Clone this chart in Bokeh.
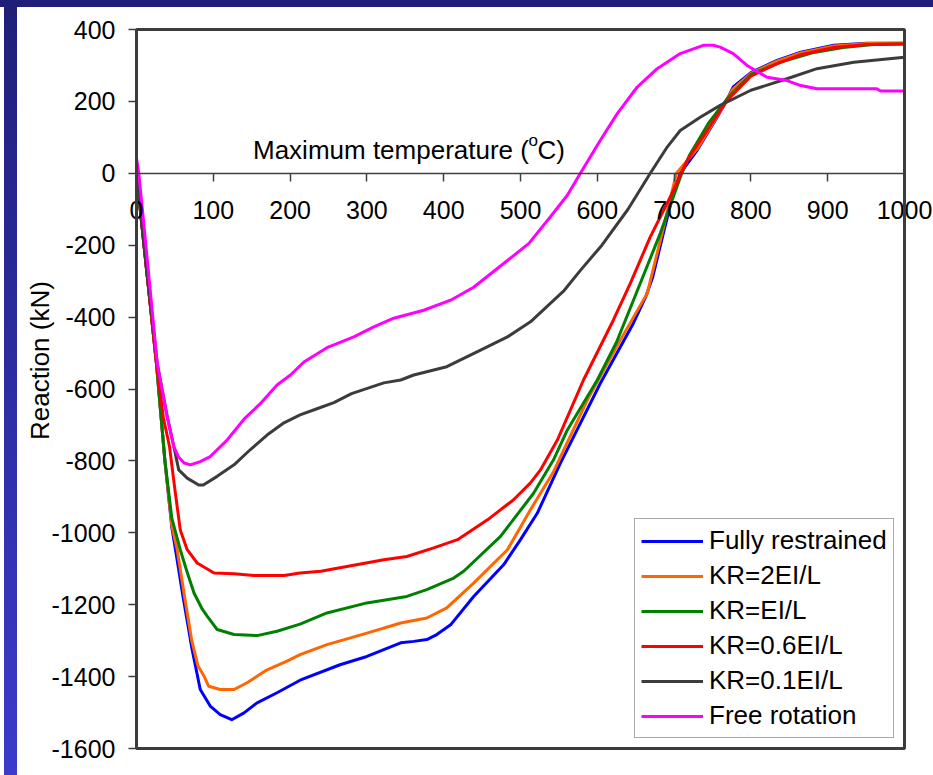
import math
from bokeh.plotting import figure
from bokeh.models import Range1d, Label, Div, FixedTicker, BoxAnnotation
from bokeh.layouts import column, row
from bokeh.embed import file_html
from bokeh.resources import INLINE

# ---------------- data ----------------
series_names = ["Fully restrained", "KR=2EI/L", "KR=EI/L", "KR=0.6EI/L", "KR=0.1EI/L", "Free rotation"]
series_colors = ["#0000FF", "#FF6600", "#008000", "#FF0000", "#3C3C3C", "#FF00FF"]

fully_T = [0, 13, 26, 37, 46, 51, 60, 72, 83, 96, 109, 124, 140, 157, 183, 213, 265, 300, 344, 361, 378, 391,
           409, 439, 478, 500, 522, 552, 604, 647, 663, 672, 686, 699, 708, 730, 756, 769, 777, 800, 834, 865,
           908, 951, 1000]
fully_R = [0, -265, -529, -800, -985, -1050, -1170, -1320, -1436, -1482, -1506, -1520, -1501, -1473, -1445,
           -1410, -1367, -1344, -1306, -1302, -1297, -1283, -1256, -1177, -1089, -1019, -945, -806, -584, -417,
           -344, -290, -167, -56, 0, 64, 156, 205, 240, 280, 314, 337, 356, 362, 362]

kr2_T = [0, 13, 26, 37, 46, 53, 62, 72, 80, 88, 94, 109, 127, 144, 170, 196, 213, 248, 300, 344, 378, 404, 439,
         483, 513, 543, 587, 630, 665, 684, 703, 730, 756, 777, 800, 834, 865, 908, 951, 1000]
kr2_R = [0, -265, -529, -800, -980, -1047, -1170, -1300, -1370, -1399, -1427, -1436, -1436, -1417, -1381,
         -1357, -1339, -1311, -1279, -1251, -1237, -1209, -1140, -1047, -936, -830, -631, -464, -334, -170, 0,
         68, 158, 235, 278, 312, 335, 354, 361, 362]

kr1_T = [0, 13, 26, 37, 46, 57, 66, 75, 85, 92, 105, 127, 157, 183, 213, 248, 300, 352, 378, 413, 426, 474, 517,
         543, 561, 600, 625, 656, 682, 710, 720, 745, 770, 800, 840, 880, 920, 960, 1000]
kr1_R = [0, -265, -529, -800, -960, -1047, -1110, -1168, -1210, -1232, -1269, -1283, -1286, -1274, -1254,
         -1223, -1195, -1177, -1158, -1126, -1107, -1010, -890, -797, -714, -575, -470, -306, -167, 0, 50, 140,
         210, 275, 310, 335, 350, 358, 360]

kr06_T = [0, 13, 26, 35, 43, 50, 57, 66, 79, 101, 127, 153, 192, 213, 240, 322, 352, 387, 418, 457, 491, 513,
          526, 548, 582, 621, 643, 669, 695, 717, 743, 769, 800, 834, 865, 908, 951, 1000]
kr06_R = [0, -265, -529, -680, -760, -880, -992, -1047, -1084, -1112, -1114, -1119, -1119, -1112, -1107, -1075,
          -1066, -1042, -1019, -964, -908, -861, -825, -742, -575, -408, -306, -177, -66, 36, 119, 203, 270, 305,
          330, 350, 358, 360]

kr01_T = [0, 13, 27, 40, 48.6, 55, 66, 81, 87, 105, 127, 148, 170, 192, 213, 235, 257, 280, 322, 344, 361, 404,
          448, 483, 513, 556, 578, 606, 640, 669, 691, 708, 734, 760, 800, 847, 886, 934, 1000]
kr01_R = [0, -265, -529, -677, -760, -825, -848, -867, -867, -843, -811, -769, -728, -694, -672, -655, -638,
          -613, -583, -575, -561, -538, -492, -455, -413, -328, -270, -200, -100, 0, 73, 119, 156, 189, 231, 263,
          291, 309, 323]

free_T = [0, 3, 12, 27, 40, 48.6, 55, 62, 70, 83, 96, 105, 118, 140, 161.5, 183, 200.5, 218, 248, 283, 309, 335,
          374, 409, 439, 474, 511, 539, 561, 578, 604, 626, 652, 678, 708, 738, 751, 760, 777, 795, 821, 847,
          865, 886, 964, 969, 1000]
free_R = [42, 0, -195, -529, -677, -760, -790, -806, -811, -802, -788, -769, -742, -684, -640, -589, -561, -525,
          -485, -455, -427, -403, -381, -353, -317, -258, -195, -121, -61, 0, 92, 166, 240, 291, 333, 356, 356,
          351, 333, 300, 267, 258, 244, 235, 235, 229, 229]

x_ticks = [0, 100, 200, 300, 400, 500, 600, 700, 800, 900, 1000]
y_ticks = [-1600, -1400, -1200, -1000, -800, -600, -400, -200, 0, 200, 400]

x_title_main = "Maximum temperature ("
x_title_sup = "o"
x_title_end = "C)"
y_title = "Reaction (kN)"

all_T = [fully_T, kr2_T, kr1_T, kr06_T, kr01_T, free_T]
all_R = [fully_R, kr2_R, kr1_R, kr06_R, kr01_R, free_R]

FONT = "Liberation Sans"
EDGE = "#3C3C3C"

# plot box (data limits) and the canvas around it
X0, X1 = 0, 1000
Y0, Y1 = -1600, 400

# ---------------- main figure ----------------
p = figure(frame_width=916, frame_height=768,
           x_range=Range1d(-154.95, 1037.76), y_range=Range1d(-1675.1, 461.2),
           output_backend="svg", toolbar_location=None,
           min_border_left=0, min_border_right=0, min_border_top=0, min_border_bottom=0,
           background_fill_color="white", border_fill_color="white",
           outline_line_color=None)
p.xgrid.visible = False
p.ygrid.visible = False

# plot-area border
p.add_layout(BoxAnnotation(left=X0, right=X1, bottom=Y0, top=Y1, fill_color=None, fill_alpha=0,
                           line_color=EDGE, line_width=3, line_alpha=1.0))

for T, R, name, col in zip(all_T, all_R, series_names, series_colors):
    p.line(T, R, line_color=col, line_width=3, line_join="round", legend_label=name)

# x axis crossing at reaction = 0
xa = p.xaxis[0]
xa.fixed_location = 0
xa.bounds = (X0, X1)
xa.ticker = FixedTicker(ticks=x_ticks)
xa.axis_line_color = "#404040"
xa.axis_line_width = 1.5
xa.major_tick_line_color = "#404040"
xa.major_tick_line_width = 1.5
xa.major_tick_out = 8
xa.major_tick_in = 0
xa.minor_tick_line_color = None
xa.major_label_standoff = 20
xa.major_label_text_font = FONT
xa.major_label_text_font_size = "25px"
xa.major_label_text_color = "black"

# y axis at temperature = 0
ya = p.yaxis[0]
ya.fixed_location = 0
ya.bounds = (Y0, Y1)
ya.ticker = FixedTicker(ticks=y_ticks)
ya.major_label_overrides = {v: str(v) for v in y_ticks}
ya.axis_line_color = EDGE
ya.axis_line_width = 3
ya.major_tick_line_color = EDGE
ya.major_tick_line_width = 1.5
ya.major_tick_out = 8
ya.major_tick_in = 0
ya.minor_tick_line_color = None
ya.major_label_standoff = 13
ya.major_label_text_font = FONT
ya.major_label_text_font_size = "25px"
ya.major_label_text_color = "black"

# axis titles
p.add_layout(Label(x=511, y=64, text=x_title_main, text_align="right", text_baseline="alphabetic",
                   text_font=FONT, text_font_size="26px", text_color="black"))
p.add_layout(Label(x=510.5, y=90, text=x_title_sup, text_align="left", text_baseline="alphabetic",
                   text_font=FONT, text_font_size="17px", text_color="black"))
p.add_layout(Label(x=522, y=64, text=x_title_end, text_align="left", text_baseline="alphabetic",
                   text_font=FONT, text_font_size="26px", text_color="black"))
p.add_layout(Label(x=-126.3, y=-521, text=y_title, angle=math.pi / 2, text_align="center",
                   text_baseline="middle", text_font=FONT, text_font_size="26px", text_color="black"))

# legend
lg = p.legend[0]
lg.location = (617, 37)
lg.margin = 0
lg.padding = 6
lg.spacing = 4
lg.glyph_width = 62
lg.glyph_height = 26
lg.label_height = 26
lg.label_standoff = 6
lg.label_text_font = FONT
lg.label_text_font_size = "26px"
lg.label_text_color = "black"
lg.border_line_color = "#555555"
lg.border_line_width = 1
lg.background_fill_color = "white"
lg.background_fill_alpha = 1.0

# ---------------- slide frame ----------------
top_band = Div(width=933, height=7, margin=0, styles={"background-color": "#1F1F7A"})
white_strip = Div(width=4, height=768, margin=0, styles={"background-color": "white"})
side_band = Div(width=13, height=768, margin=0,
                styles={"background": "linear-gradient(to bottom, #1F1F7A, #3B3BCC)"})

layout = column(top_band, row(white_strip, side_band, p, spacing=0), spacing=0)

open("out.html", "w").write(file_html(layout, INLINE))
